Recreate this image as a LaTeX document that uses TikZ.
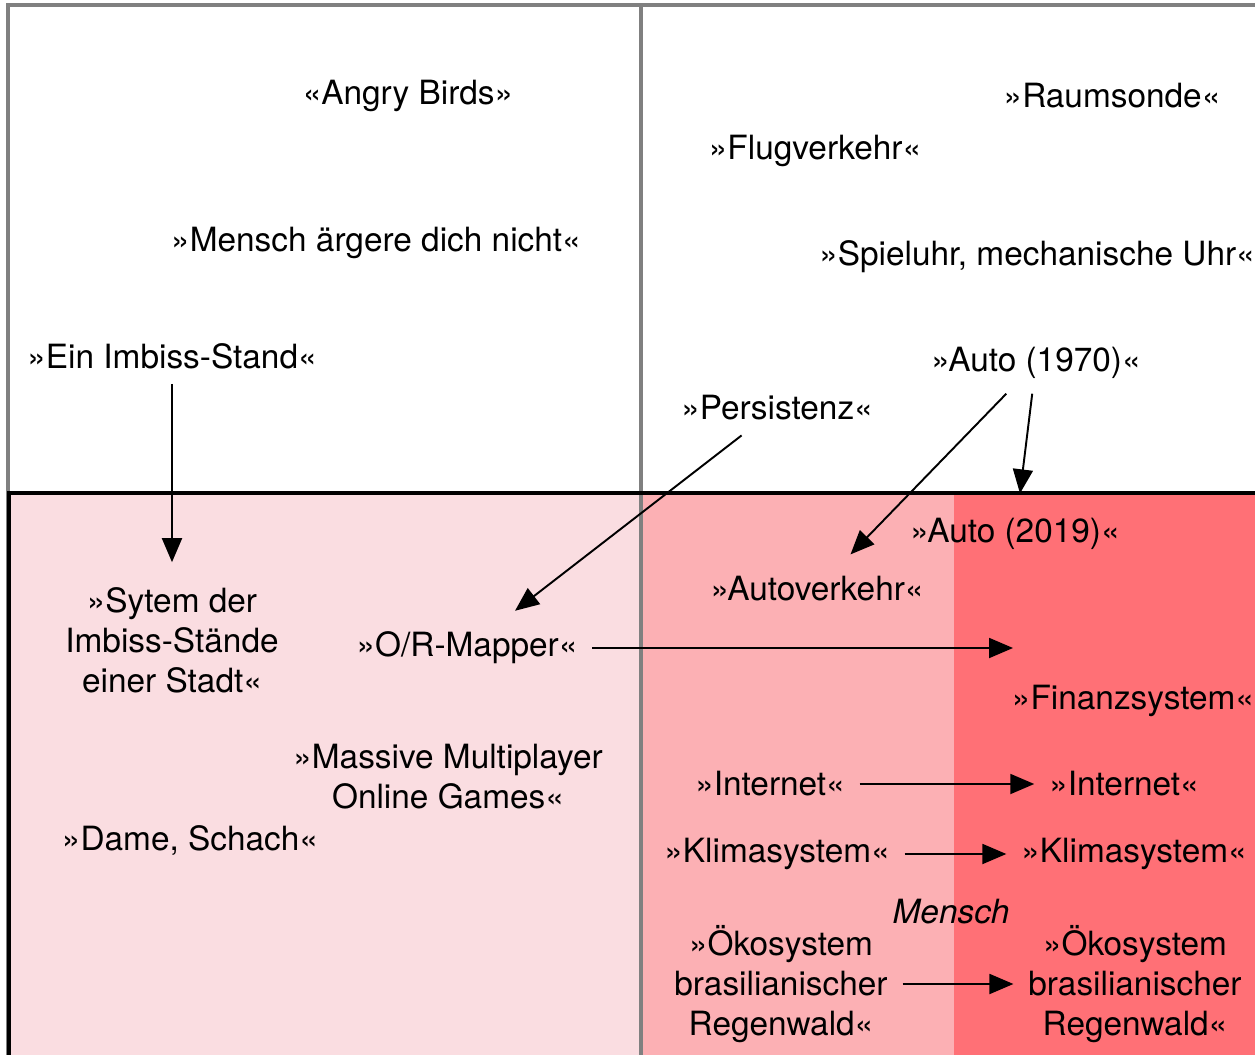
\documentclass[tikz,border=0pt]{standalone}
\usepackage{fontspec}
\setmainfont{TeX Gyre Heros}
\usetikzlibrary{arrows.meta}
\definecolor{paleRose}{RGB}{250,221,225}
\definecolor{midRose}{RGB}{252,176,180}
\definecolor{strongRose}{RGB}{255,112,118}
\definecolor{frameGray}{RGB}{128,128,128}
\tikzset{
  term/.style={inner sep=0pt, outer sep=0.3cm, align=center,
    font=\fontsize{19}{22.8}\selectfont},
  link/.style={-{Triangle[length=0.48cm, width=0.4cm]}, line width=1.1pt, black},
  frame/.style={frameGray, line width=1.9pt},
  border/.style={black, line width=2.8pt}
}
\begin{document}
\begin{tikzpicture}[x=0.02cm, y=-0.02cm]
\useasboundingbox (0,0) rectangle (1255,1055);
% bands of the lower half
\fill[paleRose] (9,493) rectangle (641,1060);
\fill[midRose] (641,493) rectangle (954,1060);
\fill[strongRose] (954,493) rectangle (1260,1060);
\draw[frame] (8,1060) -- (8,5) -- (1260,5);
\draw[frame] (641,5) -- (641,1060);
\draw[border] (1260,493) -- (9,493) -- (9,1060);
% upper half
\node[term] (angry) at (408,96) {«Angry Birds»};
\node[term] (raumsonde) at (1112,96) {»Raumsonde«};
\node[term] (flug) at (815,151) {»Flugverkehr«};
\node[term] (mensch) at (376,243) {»Mensch ärgere dich nicht«};
\node[term] (spieluhr) at (1037,257) {»Spieluhr, mechanische Uhr«};
\node[term] (imbiss) at (172,356) {»Ein Imbiss-Stand«};
\node[term] (auto70) at (1036,363) {»Auto (1970)«};
\node[term] (persistenz) at (777,408) {»Persistenz«};
% lower half
\node[term] (auto19) at (1015,534) {»Auto (2019)«};
\node[term] (autoverkehr) at (817,589) {»Autoverkehr«};
\node[term] (stadt) at (172,640) {»Sytem der\\Imbiss-Stände\\einer Stadt«};
\node[term] (mapper) at (467,648) {»O/R-Mapper«};
\coordinate (mapperend) at (1013,648);
\node[term] (finanz) at (1133,701) {»Finanzsystem«};
\node[term] (mmo) at (448,777) {»Massive Multiplayer\\Online Games«};
\node[term] (netzA) at (770,784) {»Internet«};
\node[term] (netzB) at (1124,784) {»Internet«};
\node[term] (dame) at (190,840) {»Dame, Schach«};
\node[term] (klimaA) at (777,854) {»Klimasystem«};
\node[term] (klimaB) at (1134,854) {»Klimasystem«};
\node[term, font=\fontsize{19}{22.8}\selectfont\itshape] (mensch2) at (951,912) {Mensch};
\node[term] (oekoA) at (781,984) {»Ökosystem\\brasilianischer\\Regenwald«};
\node[term] (oekoB) at (1135,984) {»Ökosystem\\brasilianischer\\Regenwald«};
% arrows
\draw[link, shorten >=0.2cm] (imbiss) -- (stadt);
\draw[link, shorten >=0.2cm] (persistenz) -- (mapper);
\draw[link, shorten >=0.2cm] (auto70) -- (autoverkehr);
\draw[link, shorten >=0.2cm] (auto70) -- (auto19);
\draw[link] (mapper) -- (mapperend);
\draw[link] (netzA) -- (netzB);
\draw[link] (klimaA) -- (klimaB);
\draw[link] (oekoA) -- (oekoB);
\end{tikzpicture}
\end{document}
